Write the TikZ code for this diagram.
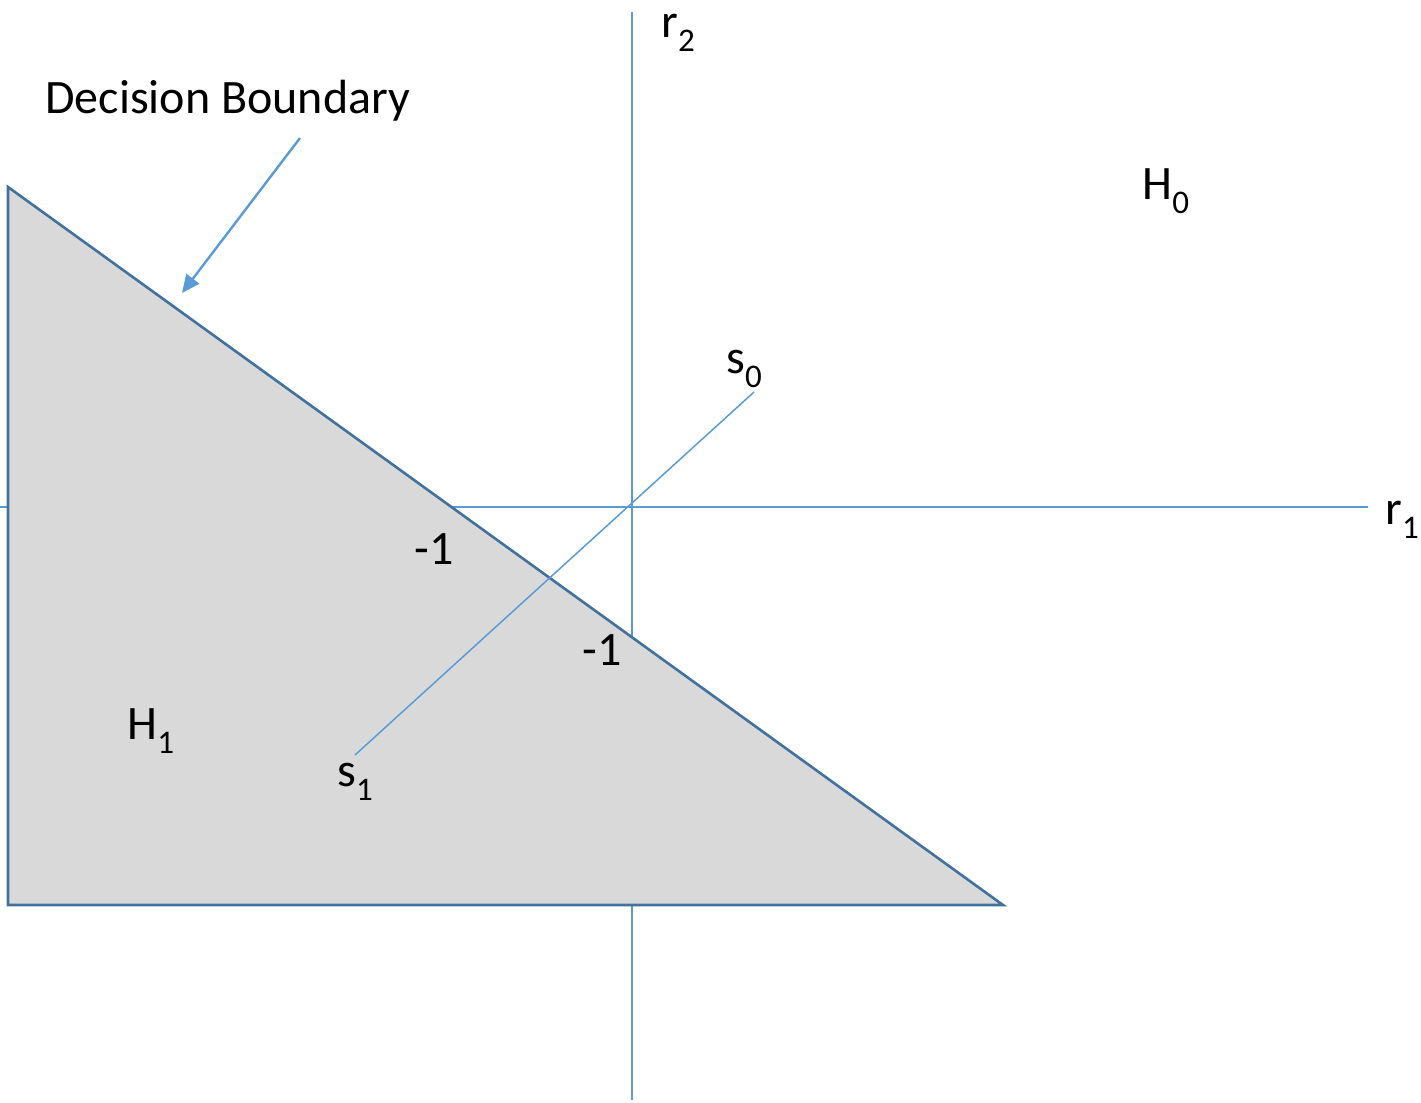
\documentclass[tikz,border=0pt]{standalone}
\usepackage{fontspec}
\setmainfont{Carlito}
\usetikzlibrary{arrows.meta}
\definecolor{axisblue}{HTML}{5B9BD5}
\definecolor{edgeblue}{HTML}{41719C}
\definecolor{regiongray}{HTML}{D9D9D9}
\newcommand{\lowsub}[1]{\raisebox{-0.3em}{\fontsize{16.5}{19}\selectfont #1}}
\begin{document}
\begin{tikzpicture}[x=0.5pt,y=-0.5pt,
  axisline/.style={draw=axisblue,line width=0.75pt},
  boundary/.style={draw=edgeblue,line width=1.3pt,fill=regiongray,line join=miter},
  lbl/.style={anchor=base west,inner sep=0pt,font=\fontsize{24}{28}\selectfont}]
\useasboundingbox (0,0) rectangle (1421,1103);
% axes
\coordinate (xl) at (0,507);
\coordinate (xr) at (1368,507);
\coordinate (yt) at (632,12);
\coordinate (yb) at (632,1100);
\draw[axisline] (xl) -- (xr);
\draw[axisline] (yt) -- (yb);
% region H1
\coordinate (ta) at (8,187);
\coordinate (tb) at (8,905);
\coordinate (tc) at (1003,905);
\path[boundary] (ta) -- (tb) -- (tc) -- cycle;
% signal line
\coordinate (s1p) at (355,755);
\coordinate (s0p) at (754,392);
\draw[axisline] (s1p) -- (s0p);
% arrow
\coordinate (arS) at (300,138);
\coordinate (arE) at (182,293);
\draw[draw=axisblue,line width=1.2pt,-{Triangle[length=9pt,width=8pt]}] (arS) -- (arE);
% labels
\node[lbl] (db) at (45,113) {Decision Boundary};
\node[lbl] (r2) at (661,37) {r\lowsub{2}};
\node[lbl] (r1) at (1385,524) {r\lowsub{1}};
\node[lbl] (h0) at (1142,199) {H\lowsub{0}};
\node[lbl] (h1) at (127,739) {H\lowsub{1}};
\node[lbl] (s0) at (726,373) {s\lowsub{0}};
\node[lbl] (s1) at (337,786) {s\lowsub{1}};
\node[lbl] (m1a) at (414,564) {-1};
\node[lbl] (m1b) at (582,665) {-1};
\end{tikzpicture}
\end{document}
